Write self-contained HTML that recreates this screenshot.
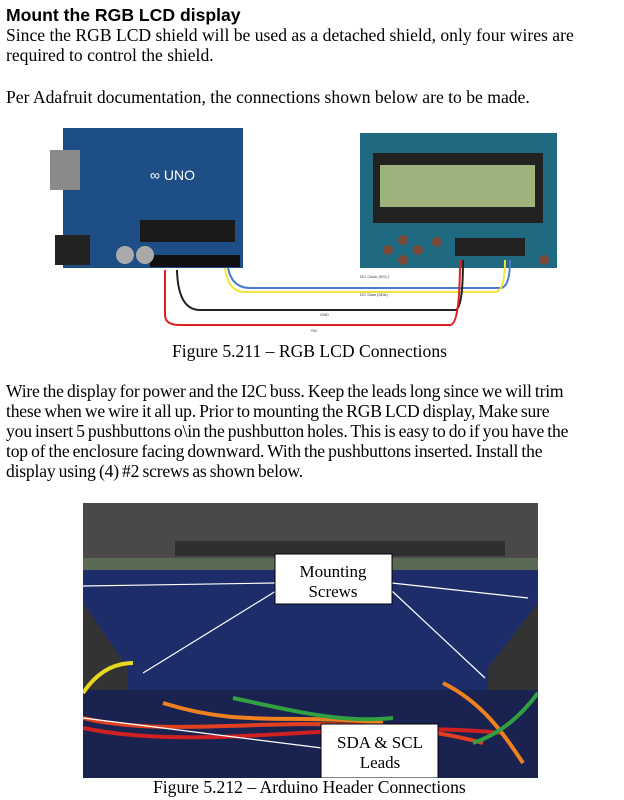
<!DOCTYPE html>
<html><head><meta charset="utf-8"><style>
body{margin:0;background:#fff;width:624px;height:800px;position:relative;overflow:hidden;font-family:"Liberation Serif",serif;font-size:17.6px;color:#000}
.t{position:absolute;left:6px;white-space:nowrap;line-height:20px}
.p{letter-spacing:-0.2px;word-spacing:-1px}
h1{position:absolute;left:6px;top:5px;margin:0;font:bold 17.6px "Liberation Sans",sans-serif}
</style></head><body>
<h1>Mount the RGB LCD display</h1>
<div class="t" style="top:25px">Since the RGB LCD shield will be used as a detached shield, only four wires are</div>
<div class="t" style="top:45px">required to control the shield.</div>
<div class="t" style="top:87px">Per Adafruit documentation, the connections shown below are to be made.</div>
<svg style="position:absolute;left:0;top:120px" width="624" height="220">
<rect x="63" y="8" width="180" height="140" fill="#1d4f86"/>
<rect x="50" y="30" width="30" height="40" fill="#8a8a8a"/>
<rect x="55" y="115" width="35" height="30" fill="#222"/>
<rect x="140" y="100" width="95" height="22" fill="#1a1a1a"/>
<rect x="150" y="135" width="90" height="12" fill="#111"/>
<circle cx="125" cy="135" r="9" fill="#aaa"/><circle cx="145" cy="135" r="9" fill="#aaa"/>
<text x="150" y="60" fill="#fff" font-family="Liberation Sans" font-size="14">∞ UNO</text>
<rect x="360" y="13" width="197" height="135" fill="#1f6a80"/>
<rect x="373" y="33" width="170" height="70" fill="#222"/>
<rect x="380" y="45" width="155" height="42" fill="#9eb27c"/>
<rect x="455" y="118" width="70" height="18" fill="#222"/>
<g fill="#7b4a3a"><circle cx="388" cy="130" r="5"/><circle cx="403" cy="120" r="5"/><circle cx="403" cy="140" r="5"/><circle cx="418" cy="130" r="5"/><circle cx="437" cy="122" r="5"/><circle cx="544" cy="140" r="5"/></g>
<g fill="none" stroke-width="2">
<path d="M228 148 Q232 168 250 168 L500 168 Q510 168 510 140" stroke="#4c7bd0"/>
<path d="M225 148 Q228 172 245 172 L495 172 Q505 172 505 140" stroke="#f2e33a"/>
<path d="M177 150 Q178 190 200 190 L455 190 Q463 190 463 140" stroke="#222"/>
<path d="M165 150 L165 195 Q165 205 180 205 L450 205 Q460 205 460 140" stroke="#e02020"/>
</g>
<g font-family="Liberation Sans" font-size="4" fill="#333"><text x="360" y="158">I2C Clock (SCL)</text><text x="360" y="176">I2C Data (SDA)</text><text x="320" y="196">GND</text><text x="310" y="212">+5V</text></g>
</svg>
<div class="t" style="top:341px;left:172px">Figure 5.211 – RGB LCD Connections</div>
<div class="t p" style="top:381px">Wire the display for power and the I2C buss. Keep the leads long since we will trim</div>
<div class="t p" style="top:401px">these when we wire it all up. Prior to mounting the RGB LCD display, Make sure</div>
<div class="t p" style="top:421px">you insert 5 pushbuttons o\in the pushbutton holes. This is easy to do if you have the</div>
<div class="t p" style="top:441px">top of the enclosure facing downward. With the pushbuttons inserted. Install the</div>
<div class="t p" style="top:461px">display using (4) #2 screws as shown below.</div>
<svg style="position:absolute;left:83px;top:503px" width="455" height="275">
<rect width="455" height="275" fill="#172040"/>
<rect width="455" height="55" fill="#4a4848"/>
<rect x="92" y="38" width="330" height="15" fill="#2f2f2f"/>
<rect y="55" width="455" height="12" fill="#5a6a55"/>
<rect y="67" width="455" height="120" fill="#1d2d6a"/>
<polygon points="0,100 45,165 45,275 0,275" fill="#333"/>
<polygon points="455,100 405,165 405,275 455,275" fill="#333"/>
<rect y="187" width="455" height="88" fill="#1a2350"/>
<g fill="none" stroke-width="4">
<path d="M0 190 Q20 160 50 160" stroke="#e8d820"/>
<path d="M0 215 C100 240 250 200 400 240" stroke="#e04020"/>
<path d="M0 225 C120 250 260 215 420 230" stroke="#d02020"/>
<path d="M80 200 C160 225 200 210 300 220" stroke="#ee8020"/>
<path d="M150 195 C220 210 260 220 310 215" stroke="#30a040"/>
<path d="M360 180 C400 200 420 230 440 260" stroke="#ee8020"/>
<path d="M390 240 C420 230 440 210 455 190" stroke="#30a040"/>
</g>
<g stroke="#fff" stroke-width="1.2"><line x1="0" y1="83" x2="192" y2="80"/><line x1="309" y1="80" x2="445" y2="95"/><line x1="193" y1="88" x2="60" y2="170"/><line x1="309" y1="88" x2="402" y2="175"/><line x1="239" y1="245" x2="0" y2="215"/></g>
<rect x="192" y="51" width="117" height="50" fill="#fff" stroke="#000"/>
<text x="250" y="74" text-anchor="middle" font-family="Liberation Serif" font-size="17">Mounting</text>
<text x="250" y="94" text-anchor="middle" font-family="Liberation Serif" font-size="17">Screws</text>
<rect x="238" y="221" width="117" height="54" fill="#fff" stroke="#000"/>
<text x="297" y="245" text-anchor="middle" font-family="Liberation Serif" font-size="17">SDA &amp; SCL</text>
<text x="297" y="265" text-anchor="middle" font-family="Liberation Serif" font-size="17">Leads</text>
</svg>
<div class="t" style="top:777px;left:153px">Figure 5.212 – Arduino Header Connections</div>
</body></html>
